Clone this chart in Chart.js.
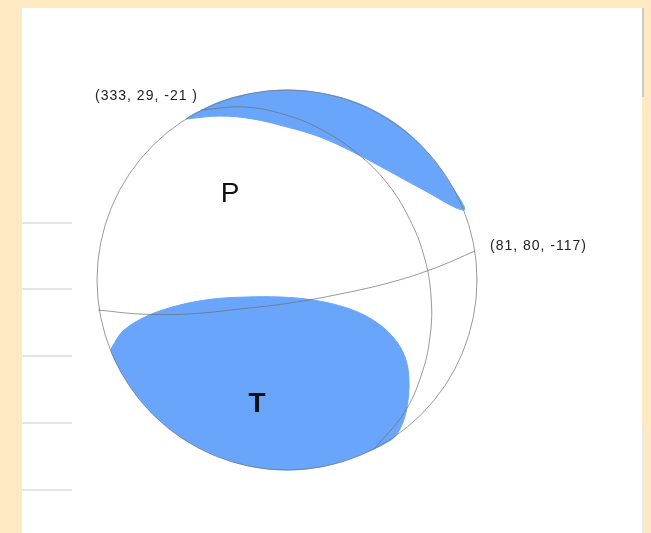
<!DOCTYPE html>
<html>
<head>
<meta charset="utf-8">
<script src="https://cdn.jsdelivr.net/npm/chart.js@4/dist/chart.umd.min.js"></script>
<style>
    html, body { margin: 0; padding: 0; background: #FFE9C3; }
    #beachball { position: absolute; left: 0; top: 0; }
</style>
</head>
<body>
<canvas id="beachball" width="651" height="533"></canvas>
<script>
// nodal planes (strike, dip, rake)
const planeLabels = ['(333, 29, -21 )', '(81, 80, -117)'];

// stereonet centre
const centerX = [287];
const centerY = [280];

// upper blue lobe (outer rim, then inner edge back)
const topLobeX = [186, 192, 222, 254, 287, 320, 352, 382, 409, 432, 451, 464,
                  420, 387, 353, 320, 287, 253, 220, 186];
const topLobeY = [119, 115, 101, 93, 90, 93, 101, 115, 134, 158, 185, 210,
                  188, 170, 152, 137, 127, 119, 116, 119];

// lower blue lobe
const bottomLobeX = [112, 123, 147, 180, 213, 247, 280, 313, 347, 373, 393, 405, 409, 407, 401, 391,
                     352, 320, 287, 254, 222, 192, 165, 142, 123, 111, 112];
const bottomLobeY = [347, 331, 316, 305, 299, 297, 297, 300, 308, 320, 337, 357, 380, 407, 427, 440,
                     458, 467, 470, 467, 458, 444, 425, 402, 375, 351, 347];

// plane 1 trace
const plane1X = [201, 244, 286, 324, 358, 387, 409, 424, 431, 430, 421, 404, 374];
const plane1Y = [110, 107, 115, 131, 154, 183, 218, 256, 296, 337, 376, 413, 449];

// plane 2 trace
const plane2X = [98, 140, 188, 240, 290, 340, 392, 435, 475];
const plane2Y = [310, 314, 314, 309, 303, 294, 282, 268, 251];

// P and T axes
const axisNames = ['P', 'T'];
const axisX = [230, 257];
const axisY = [193, 403];

const toPoints = (xs, ys) => xs.map((x, i) => ({ x: x, y: ys[i] }));

class Main {
    constructor() {
        this.canvas = document.getElementById('beachball');
        this.initChart();
    }

    lobe(xs, ys) {
        return {
            data: toPoints(xs, ys),
            showLine: true,
            fill: 'shape',
            backgroundColor: '#69A6FB',
            borderColor: '#69A6FB',
            borderWidth: 1,
            tension: 0.35,
            pointRadius: 0,
            order: 5
        };
    }

    plane(xs, ys) {
        return {
            data: toPoints(xs, ys),
            showLine: true,
            fill: false,
            borderColor: 'rgba(110, 110, 110, 0.7)',
            borderWidth: 1,
            tension: 0.4,
            pointRadius: 0,
            order: 2
        };
    }

    initChart() {
        const paper = {
            id: 'paper',
            beforeDraw(chart) {
                const ctx = chart.ctx;
                ctx.save();
                ctx.fillStyle = '#FFE9C3';
                ctx.fillRect(0, 0, chart.width, chart.height);
                ctx.fillStyle = '#ffffff';
                ctx.fillRect(22, 8, 620, chart.height - 8);
                ctx.strokeStyle = '#dcdcdc';
                ctx.lineWidth = 1.5;
                [223, 289, 356, 423, 490].forEach(y => {
                    ctx.beginPath();
                    ctx.moveTo(22, y);
                    ctx.lineTo(72, y);
                    ctx.stroke();
                });
                ctx.strokeStyle = '#c8c8c8';
                ctx.lineWidth = 2;
                ctx.beginPath();
                ctx.moveTo(643, 8);
                ctx.lineTo(643, 97);
                ctx.stroke();
                ctx.strokeStyle = '#e2e6f6';
                ctx.beginPath();
                ctx.moveTo(643, 425);
                ctx.lineTo(643, 533);
                ctx.stroke();
                ctx.restore();
            }
        };

        const annotations = {
            id: 'annotations',
            afterDatasetsDraw(chart) {
                const ctx = chart.ctx;
                const sx = chart.scales.x;
                const sy = chart.scales.y;
                ctx.save();
                ctx.fillStyle = '#222222';
                ctx.font = '14px Arial, "Liberation Sans", sans-serif';
                ctx.letterSpacing = '1px';
                ctx.textBaseline = 'middle';
                // label 1 sits left of the start of plane 1
                ctx.textAlign = 'right';
                ctx.fillText(planeLabels[0], sx.getPixelForValue(plane1X[0]) - 3, sy.getPixelForValue(plane1Y[0]) - 14);
                // label 2 sits right of the end of plane 2
                ctx.textAlign = 'left';
                const last = plane2X.length - 1;
                ctx.fillText(planeLabels[1], sx.getPixelForValue(plane2X[last]) + 15, sy.getPixelForValue(plane2Y[last]) - 5);

                ctx.letterSpacing = '0px';
                ctx.textAlign = 'center';
                ctx.fillStyle = '#111111';
                axisNames.forEach((name, i) => {
                    ctx.font = (name === 'T' ? 'bold ' : '') + '28px Arial, "Liberation Sans", sans-serif';
                    ctx.fillText(name, sx.getPixelForValue(axisX[i]), sy.getPixelForValue(axisY[i]) + 1);
                });
                ctx.restore();
            }
        };

        const config = {
            type: 'scatter',
            data: {
                datasets: [
                    {
                        data: toPoints(centerX, centerY),
                        pointRadius: 190,
                        pointBorderWidth: 1,
                        pointBorderColor: 'rgba(120, 120, 120, 0.75)',
                        pointBackgroundColor: 'rgba(0, 0, 0, 0)',
                        clip: false,
                        order: 1
                    },
                    this.plane(plane1X, plane1Y),
                    this.plane(plane2X, plane2Y),
                    this.lobe(topLobeX, topLobeY),
                    this.lobe(bottomLobeX, bottomLobeY)
                ]
            },
            options: {
                responsive: false,
                animation: false,
                events: [],
                layout: { padding: 0, autoPadding: false },
                scales: {
                    x: { type: 'linear', min: 0, max: 651, display: false },
                    y: { type: 'linear', min: 0, max: 533, reverse: true, display: false }
                },
                plugins: {
                    legend: { display: false },
                    tooltip: { enabled: false }
                }
            },
            plugins: [paper, annotations]
        };
        new Chart(this.canvas, config);
    }
}

window.onload = () => {
    new Main();
}
</script>
</body>
</html>
